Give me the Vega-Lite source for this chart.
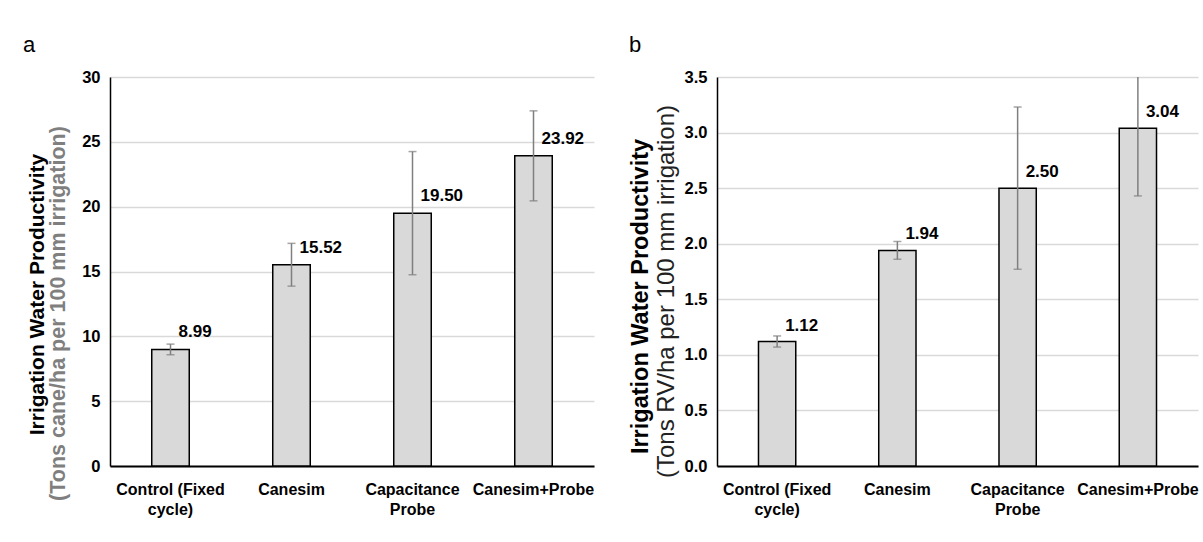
{
  "$schema": "https://vega.github.io/schema/vega-lite/v6.json",
  "background": "white",
  "padding": {"left": 23, "top": 34, "right": 2, "bottom": 2},
  "autosize": {"type": "pad"},
  "spacing": 33,
  "datasets": {
    "a": [
      {"cat": "Control (Fixed cycle)", "value": 8.99, "lo": 8.58, "hi": 9.40},
      {"cat": "Canesim", "value": 15.52, "lo": 13.87, "hi": 17.17},
      {"cat": "Capacitance Probe", "value": 19.50, "lo": 14.75, "hi": 24.25},
      {"cat": "Canesim+Probe", "value": 23.92, "lo": 20.45, "hi": 27.39}
    ],
    "b": [
      {"cat": "Control (Fixed cycle)", "value": 1.12, "lo": 1.07, "hi": 1.17},
      {"cat": "Canesim", "value": 1.94, "lo": 1.86, "hi": 2.02},
      {"cat": "Capacitance Probe", "value": 2.50, "lo": 1.77, "hi": 3.23},
      {"cat": "Canesim+Probe", "value": 3.04, "lo": 2.43, "hi": 3.65}
    ]
  },
  "hconcat": [
    {
      "width": 484,
      "height": 389,
      "data": {"name": "a"},
      "title": {"text": "a", "anchor": "start", "frame": "group", "dx": -87, "offset": -5, "baseline": "alphabetic", "fontSize": 22, "fontWeight": "normal", "font": "Liberation Sans", "color": "#000"},
      "encoding": {
        "x": {
          "field": "cat", "type": "nominal", "sort": null,
          "scale": {"paddingInner": 0.69, "paddingOuter": 0.345},
          "axis": {
            "title": null, "labelAngle": 0, "ticks": false, "labelPadding": 15, "labelBaseline": "top",
            "labelExpr": "datum.value == 'Control (Fixed cycle)' ? ['Control (Fixed', 'cycle)'] : datum.value == 'Capacitance Probe' ? ['Capacitance', 'Probe'] : datum.value",
            "labelFont": "Liberation Sans", "labelFontSize": 16, "labelFontWeight": "bold", "labelColor": "#000", "labelLineHeight": 20,
            "domainColor": "#000", "domainWidth": 2
          }
        }
      },
      "layer": [
        {
          "mark": {"type": "bar", "fill": "#d9d9d9", "stroke": "#000", "strokeWidth": 1.5},
          "encoding": {
            "y": {
              "field": "value", "type": "quantitative",
              "scale": {"domain": [0, 30], "nice": false},
              "axis": {
                "values": [0, 5, 10, 15, 20, 25, 30], "ticks": false, "labelPadding": 10,
                "labelFont": "Liberation Sans", "labelFontSize": 16.5, "labelFontWeight": "bold", "labelColor": "#000",
                "domainColor": "#000", "domainWidth": 1.5, "gridColor": "#d9d9d9", "gridWidth": 1.5,
                "title": "(Tons cane/ha per 100 mm irrigation)", "titleColor": "#7f7f7f", "titleFont": "Liberation Sans", "titleFontSize": 21.5, "titleFontWeight": "bold",
                "titleX": -52, "titleY": 236, "titleBaseline": "middle", "titleAngle": -90
              }
            }
          }
        },
        {
          "mark": {"type": "rule", "color": "#7f7f7f", "strokeWidth": 1.5, "clip": true},
          "encoding": {"y": {"field": "lo", "type": "quantitative", "axis": null}, "y2": {"field": "hi"}}
        },
        {
          "mark": {"type": "tick", "color": "#7f7f7f", "thickness": 1.5, "size": 8, "clip": true},
          "encoding": {"y": {"field": "lo", "type": "quantitative", "axis": null}}
        },
        {
          "mark": {"type": "tick", "color": "#7f7f7f", "thickness": 1.5, "size": 8, "clip": true},
          "encoding": {"y": {"field": "hi", "type": "quantitative", "axis": null}}
        },
        {
          "mark": {"type": "text", "align": "left", "baseline": "middle", "dx": 8, "dy": -17, "font": "Liberation Sans", "fontSize": 17, "fontWeight": "bold", "color": "#000"},
          "encoding": {
            "y": {
              "field": "value", "type": "quantitative",
              "axis": {
                "orient": "left", "labels": false, "ticks": false, "domain": false, "grid": false,
                "title": "Irrigation Water Productivity", "titleColor": "#000", "titleFont": "Liberation Sans", "titleFontSize": 21, "titleFontWeight": "bold",
                "titleX": -73, "titleY": 217, "titleBaseline": "middle", "titleAngle": -90
              }
            },
            "text": {"field": "value", "type": "quantitative", "format": ".2f"}
          }
        }
      ],
      "resolve": {"axis": {"y": "independent"}}
    },
    {
      "width": 481,
      "height": 389,
      "data": {"name": "b"},
      "title": {"text": "b", "anchor": "start", "frame": "group", "dx": -88, "offset": -5, "baseline": "alphabetic", "fontSize": 22, "fontWeight": "normal", "font": "Liberation Sans", "color": "#000"},
      "encoding": {
        "x": {
          "field": "cat", "type": "nominal", "sort": null,
          "scale": {"paddingInner": 0.69, "paddingOuter": 0.345},
          "axis": {
            "title": null, "labelAngle": 0, "ticks": false, "labelPadding": 15, "labelBaseline": "top",
            "labelExpr": "datum.value == 'Control (Fixed cycle)' ? ['Control (Fixed', 'cycle)'] : datum.value == 'Capacitance Probe' ? ['Capacitance', 'Probe'] : datum.value",
            "labelFont": "Liberation Sans", "labelFontSize": 16, "labelFontWeight": "bold", "labelColor": "#000", "labelLineHeight": 20,
            "domainColor": "#000", "domainWidth": 2
          }
        }
      },
      "layer": [
        {
          "mark": {"type": "bar", "fill": "#d9d9d9", "stroke": "#000", "strokeWidth": 1.5},
          "encoding": {
            "y": {
              "field": "value", "type": "quantitative",
              "scale": {"domain": [0, 3.5], "nice": false},
              "axis": {
                "values": [0, 0.5, 1, 1.5, 2, 2.5, 3, 3.5], "format": ".1f", "ticks": false, "labelPadding": 10,
                "labelFont": "Liberation Sans", "labelFontSize": 16.5, "labelFontWeight": "bold", "labelColor": "#000",
                "domainColor": "#000", "domainWidth": 1.5, "gridColor": "#d9d9d9", "gridWidth": 1.5,
                "title": "(Tons RV/ha per 100 mm irrigation)", "titleColor": "#222", "titleFont": "Liberation Sans", "titleFontSize": 24, "titleFontWeight": "normal",
                "titleX": -51, "titleY": 214, "titleBaseline": "middle", "titleAngle": -90
              }
            }
          }
        },
        {
          "mark": {"type": "rule", "color": "#7f7f7f", "strokeWidth": 1.5, "clip": true},
          "encoding": {"y": {"field": "lo", "type": "quantitative", "axis": null}, "y2": {"field": "hi"}}
        },
        {
          "mark": {"type": "tick", "color": "#7f7f7f", "thickness": 1.5, "size": 8, "clip": true},
          "encoding": {"y": {"field": "lo", "type": "quantitative", "axis": null}}
        },
        {
          "mark": {"type": "tick", "color": "#7f7f7f", "thickness": 1.5, "size": 8, "clip": true},
          "encoding": {"y": {"field": "hi", "type": "quantitative", "axis": null}}
        },
        {
          "mark": {"type": "text", "align": "left", "baseline": "middle", "dx": 8, "dy": -16, "font": "Liberation Sans", "fontSize": 17, "fontWeight": "bold", "color": "#000"},
          "encoding": {
            "y": {
              "field": "value", "type": "quantitative",
              "axis": {
                "orient": "left", "labels": false, "ticks": false, "domain": false, "grid": false,
                "title": "Irrigation Water Productivity", "titleColor": "#000", "titleFont": "Liberation Sans", "titleFontSize": 23.5, "titleFontWeight": "bold",
                "titleX": -77, "titleY": 219, "titleBaseline": "middle", "titleAngle": -90
              }
            },
            "text": {"field": "value", "type": "quantitative", "format": ".2f"}
          }
        }
      ],
      "resolve": {"axis": {"y": "independent"}}
    }
  ],
  "config": {"view": {"stroke": null}}
}
